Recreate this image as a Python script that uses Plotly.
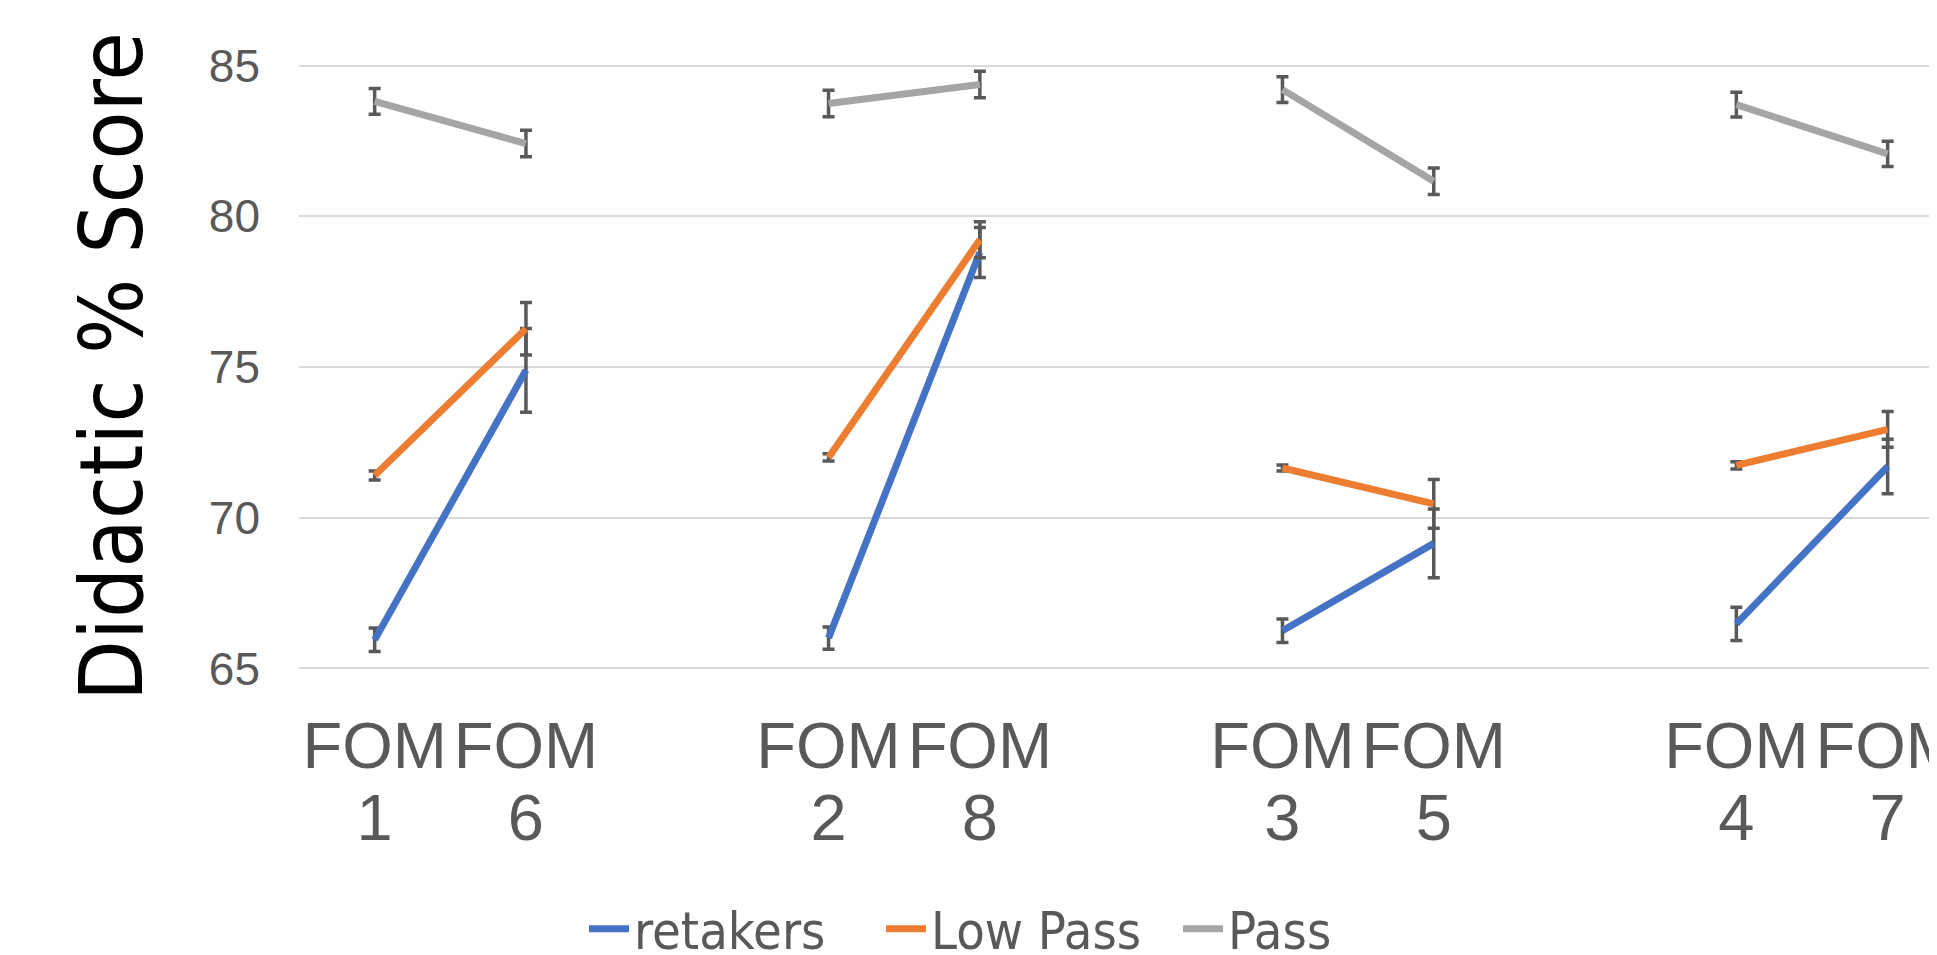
import plotly.graph_objects as go

# ---- data ----
categories = ["FOM 1", "FOM 6", "", "FOM 2", "FOM 8", "", "FOM 3", "FOM 5", "", "FOM 4", "FOM 7"]
retakers = [65.95, 74.89, None, 66.01, 78.80, None, 66.25, 69.15, None, 66.48, 71.70]
retakers_err = [0.39, 1.39, None, 0.37, 0.83, None, 0.39, 1.14, None, 0.55, 0.90]
low_pass = [71.40, 76.27, None, 72.00, 79.22, None, 71.65, 70.46, None, 71.74, 72.93]
low_pass_err = [0.15, 0.87, None, 0.12, 0.60, None, 0.10, 0.81, None, 0.12, 0.59]
pass_ = [83.81, 82.41, None, 83.74, 84.37, None, 84.20, 81.16, None, 83.70, 82.07]
pass_err = [0.43, 0.44, None, 0.44, 0.44, None, 0.43, 0.44, None, 0.41, 0.42]
y_ticks = [65, 70, 75, 80, 85]

series = [
    ("retakers", retakers, retakers_err, "#4472C4"),
    ("Low Pass", low_pass, low_pass_err, "#ED7D31"),
    ("Pass", pass_, pass_err, "#A5A5A5"),
]

x = list(range(len(categories)))
tick_idx = [i for i, c in enumerate(categories) if c]
tick_top = [categories[i].split(" ")[0] for i in tick_idx]
tick_bot = [categories[i].split(" ")[1] for i in tick_idx]

# page body has an 8px margin, so the figure is shifted by 8px
OFF = 8
W, H = 1937 - OFF, 955 - OFF
ML, MR, MT, MB = 299 - OFF, 0, 64 - OFF, 285
cat_w = 151.3
PW = W - ML - MR
x_range = [-0.5, -0.5 + PW / cat_w]

fig = go.Figure()
for name, vals, errs, col in series:
    fig.add_trace(go.Scatter(
        x=x, y=vals, name=name, mode="lines",
        line=dict(color=col, width=7),
        connectgaps=False,
        error_y=dict(type="data", array=[e if e is not None else 0 for e in errs],
                     visible=True, color="#595959", thickness=3.5, width=6),
    ))

# helper trace so the second-row tick axis exists
fig.add_trace(go.Scatter(x=tick_idx, y=[None] * len(tick_idx), xaxis="x2",
                         showlegend=False, hoverinfo="skip", mode="lines"))

tick_font = dict(family="Liberation Sans, Arial", size=65, color="#595959")
fig.update_layout(
    width=W, height=H,
    margin=dict(l=ML, r=MR, t=MT, b=MB, autoexpand=False),
    paper_bgcolor="white", plot_bgcolor="white",
    showlegend=True,
    legend=dict(orientation="h", x=(584 - OFF - ML) / PW, xanchor="left",
                y=-(929 - OFF - (H - MB)) / (H - MT - MB), yanchor="middle",
                font=dict(family="Liberation Sans Narrow, Arial Narrow, DejaVu Sans Condensed",
                          size=52, color="#595959"),
                entrywidth=242, entrywidthmode="pixels",
                itemwidth=40, tracegroupgap=0),
    xaxis=dict(range=x_range, tickmode="array", tickvals=tick_idx, ticktext=tick_top,
               showgrid=False, zeroline=False, showline=False, ticks="",
               tickfont=tick_font, automargin=False, ticklabeloverflow="allow",
               ticklabelstandoff=32),
    xaxis2=dict(range=x_range, overlaying="x", anchor="y", side="bottom",
                tickmode="array", tickvals=tick_idx, ticktext=tick_bot,
                showgrid=False, zeroline=False, showline=False, ticks="",
                tickfont=tick_font, automargin=False, ticklabeloverflow="allow",
                ticklabelstandoff=104),
    yaxis=dict(range=[64.95, 85.05], tickmode="array", tickvals=y_ticks,
               showgrid=True, gridcolor="#D9D9D9", gridwidth=2,
               zeroline=False, showline=False, ticks="", automargin=False,
               tickfont=dict(family="Liberation Sans, Arial", size=46, color="#595959"),
               ticklabelstandoff=38),
    annotations=[dict(text="Didactic % Score", xref="paper", yref="paper",
                      x=(111 - OFF - ML) / PW, y=0.5, xanchor="center", yanchor="middle",
                      textangle=-90, showarrow=False,
                      font=dict(family="Liberation Sans Narrow, Arial Narrow, DejaVu Sans Condensed",
                                size=88, color="black"))],
)

fig.write_html("out.html")
